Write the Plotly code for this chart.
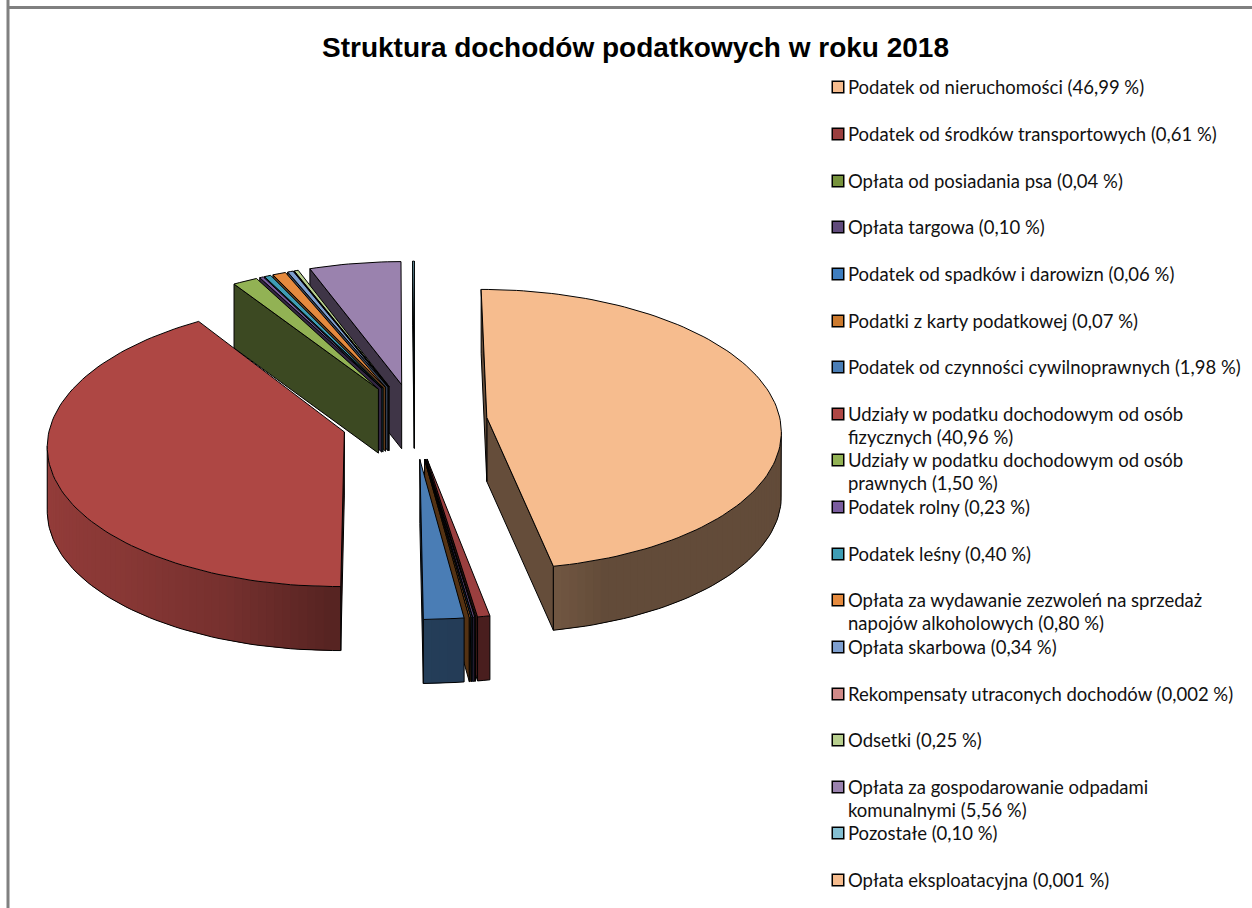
import math
import plotly.graph_objects as go

TITLE = "Struktura dochodów podatkowych w roku 2018"
categories = [
    "Podatek od nieruchomości", "Podatek od środków transportowych",
    "Opłata od posiadania psa", "Opłata targowa",
    "Podatek od spadków i darowizn", "Podatki z karty podatkowej",
    "Podatek od czynności cywilnoprawnych",
    "Udziały w podatku dochodowym od osób fizycznych",
    "Udziały w podatku dochodowym od osób prawnych",
    "Podatek rolny", "Podatek leśny",
    "Opłata za wydawanie zezwoleń na sprzedaż napojów alkoholowych",
    "Opłata skarbowa", "Rekompensaty utraconych dochodów", "Odsetki",
    "Opłata za gospodarowanie odpadami komunalnymi", "Pozostałe",
    "Opłata eksploatacyjna",
]
values = [46.99, 0.61, 0.04, 0.10, 0.06, 0.07, 1.98, 40.96, 1.50, 0.23, 0.40,
          0.80, 0.34, 0.002, 0.25, 5.56, 0.10, 0.001]
legend_lines = [
    ["Podatek od nieruchomości (46,99 %)"],
    ["Podatek od środków transportowych (0,61 %)"],
    ["Opłata od posiadania psa (0,04 %)"],
    ["Opłata targowa (0,10 %)"],
    ["Podatek od spadków i darowizn (0,06 %)"],
    ["Podatki z karty podatkowej (0,07 %)"],
    ["Podatek od czynności cywilnoprawnych (1,98 %)"],
    ["Udziały w podatku dochodowym od osób", "fizycznych (40,96 %)"],
    ["Udziały w podatku dochodowym od osób", "prawnych (1,50 %)"],
    ["Podatek rolny (0,23 %)"],
    ["Podatek leśny (0,40 %)"],
    ["Opłata za wydawanie zezwoleń na sprzedaż", "napojów alkoholowych (0,80 %)"],
    ["Opłata skarbowa (0,34 %)"],
    ["Rekompensaty utraconych dochodów (0,002 %)"],
    ["Odsetki (0,25 %)"],
    ["Opłata za gospodarowanie odpadami", "komunalnymi (5,56 %)"],
    ["Pozostałe (0,10 %)"],
    ["Opłata eksploatacyjna (0,001 %)"],
]
colors = ["#F6BC8E", "#9A3F3F", "#77933C", "#604A7B", "#3E7DBE", "#CC7A2E",
          "#4A7DB5", "#AE4744", "#92B254", "#7A5C9E", "#3E9DB5", "#E58A3E",
          "#7E9FCF", "#D08A88", "#B8CF8E", "#9A82AE", "#84BFD2", "#F6BC8E"]
legend_y = [87, 134, 181, 227, 274, 321, 367, 414, 460, 507, 554, 600, 647,
            694, 740, 787, 833, 880]

# projection of the tilted pie
CX, CY, RX, RY, PERSP, EX, EY, DEPTH = 414.5, 421, 293.5, 139.5, 0.085, 0.248, 0.27, 64
LINE_H = 23
FONT = "Lato"
FONT_SIZE = 18.5
# lighting of the outer wall: angle in degrees -> brightness
SHADE_ANGLES = [90, 158, 169, 180, 199, 221, 256, 270]
SHADE_LEVELS = [0.40, 0.40, 0.47, 0.50, 0.68, 0.78, 0.85, 0.86]


def project(X, Z):
    s = 1 / (1 + PERSP * Z)
    return CX + X * RX * s, CY - Z * RY * s


def shade(hex_color, f):
    r, g, b = (int(hex_color[i:i + 2], 16) for i in (1, 3, 5))
    return f"rgb({r * f:.0f},{g * f:.0f},{b * f:.0f})"


def wall_factor(deg):
    d = min(max(deg % 360, SHADE_ANGLES[0]), SHADE_ANGLES[-1])
    for k in range(len(SHADE_ANGLES) - 1):
        if d <= SHADE_ANGLES[k + 1]:
            t = (d - SHADE_ANGLES[k]) / (SHADE_ANGLES[k + 1] - SHADE_ANGLES[k])
            return SHADE_LEVELS[k] + t * (SHADE_LEVELS[k + 1] - SHADE_LEVELS[k])
    return SHADE_LEVELS[-1]


def poly(fig, xs, ys, fill, line="black", width=1.0):
    fig.add_trace(go.Scatter(
        x=list(xs) + [xs[0]], y=list(ys) + [ys[0]], mode="lines", fill="toself",
        fillcolor=fill, line=dict(color=line, width=width), hoverinfo="skip",
        showlegend=False))


fig = go.Figure()
total = sum(values)
slices = []
acc = 0.0
for cat, val, col in zip(categories, values, colors):
    a0 = acc / total * 2 * math.pi
    acc += val
    a1 = acc / total * 2 * math.pi
    mid = (a0 + a1) / 2
    slices.append(dict(a0=a0, a1=a1, ax=EX * math.sin(mid), az=EY * math.cos(mid),
                       col=col, name=cat))

for s in sorted(slices, key=lambda q: -q["az"]):
    n = max(2, int((s["a1"] - s["a0"]) / math.radians(1.5)) + 1)
    angs = [s["a0"] + (s["a1"] - s["a0"]) * i / n for i in range(n + 1)]
    rim = [project(s["ax"] + math.sin(a), s["az"] + math.cos(a)) for a in angs]
    apex = project(s["ax"], s["az"])
    # cut faces
    if rim[-1][0] > apex[0]:
        poly(fig, [apex[0], rim[-1][0], rim[-1][0], apex[0]],
             [apex[1], rim[-1][1], rim[-1][1] + DEPTH, apex[1] + DEPTH], shade(s["col"], 0.41))
    if rim[0][0] < apex[0]:
        poly(fig, [apex[0], rim[0][0], rim[0][0], apex[0]],
             [apex[1], rim[0][1], rim[0][1] + DEPTH, apex[1] + DEPTH], shade(s["col"], 0.41))
    # outer wall strips, each one overlapping the next so no seams show
    wall = [i for i in range(n) if rim[i + 1][0] < rim[i][0]]
    for i in reversed(wall):
        j = min(i + 2, n) if i + 1 in wall else i + 1
        mx = [rim[k][0] for k in range(i, j + 1)]
        my = [rim[k][1] for k in range(i, j + 1)]
        c = shade(s["col"], wall_factor(math.degrees((angs[i] + angs[i + 1]) / 2)))
        poly(fig, mx + mx[::-1], my + [v + DEPTH for v in my[::-1]], c, line=c, width=0)
    if wall:
        idx = wall + [wall[-1] + 1]
        xs = [rim[i][0] for i in idx]
        ys = [rim[i][1] + DEPTH for i in idx]
        fig.add_trace(go.Scatter(
            x=[xs[0]] + xs + [xs[-1]], y=[ys[0] - DEPTH] + ys + [ys[-1] - DEPTH],
            mode="lines", line=dict(color="black", width=1), hoverinfo="skip", showlegend=False))
    # top face
    poly(fig, [apex[0]] + [p[0] for p in rim], [apex[1]] + [p[1] for p in rim], s["col"])

# legend swatches
fig.add_trace(go.Scatter(
    x=[838] * len(colors), y=legend_y, mode="markers", hoverinfo="skip", showlegend=False,
    marker=dict(symbol="square", size=11.5, color=colors, line=dict(color="black", width=1.5))))

annotations = [dict(x=635, y=47, xref="x", yref="y", text=f"<b>{TITLE}</b>", showarrow=False,
                    xanchor="center", yanchor="middle",
                    font=dict(family="Liberation Sans", size=28, color="black"))]
for rows, y in zip(legend_lines, legend_y):
    for k, row in enumerate(rows):
        annotations.append(dict(x=845.5, y=y + k * LINE_H, xref="x", yref="y", text=row,
                                showarrow=False, xanchor="left", yanchor="middle",
                                font=dict(family=FONT, size=FONT_SIZE, color="#111111")))

frame = dict(type="line", xref="x", yref="y", line=dict(color="#808080", width=3))
fig.update_layout(
    width=1252, height=908, margin=dict(l=0, r=0, t=0, b=0), autosize=False,
    paper_bgcolor="white", plot_bgcolor="white", showlegend=False,
    xaxis=dict(range=[0, 1252], visible=False, fixedrange=True),
    yaxis=dict(range=[908, 0], visible=False, fixedrange=True),
    annotations=annotations,
    shapes=[dict(frame, x0=7.5, x1=1252, y0=7.5, y1=7.5),
            dict(frame, x0=8, x1=8, y0=0, y1=908)],
)
fig.write_html("out.html", post_script="document.body.style.margin='0';document.body.style.overflow='hidden';",
               config=dict(displayModeBar=False))
